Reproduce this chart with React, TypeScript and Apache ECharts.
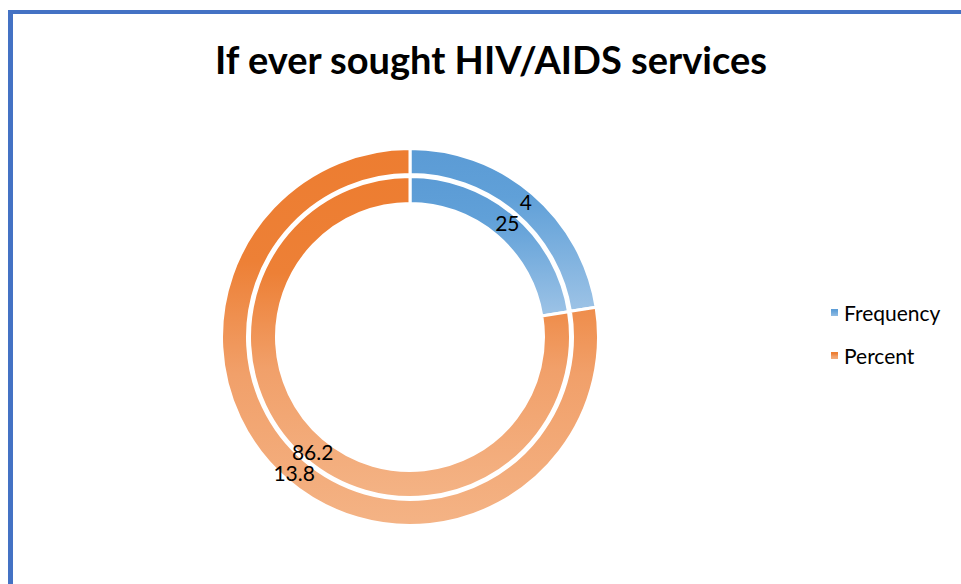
import React, { useEffect, useRef } from "react";
import * as echarts from "echarts";

const categories = ["Frequency", "Percent"];
const outerValues = [4, 13.8];
const innerValues = [25, 86.2];
const titleText = "If ever sought HIV/AIDS services";

const blueGrad = () =>
  new echarts.graphic.LinearGradient(0, 0, 0, 1, [
    { offset: 0, color: "#5B9BD5" },
    { offset: 0.3, color: "#60A0D8" },
    { offset: 1, color: "#9DC3E6" },
  ]);
const orangeGrad = () =>
  new echarts.graphic.LinearGradient(0, 0, 0, 1, [
    { offset: 0, color: "#ED7D31" },
    { offset: 0.3, color: "#ED8036" },
    { offset: 0.6, color: "#F1A06A" },
    { offset: 1, color: "#F4B385" },
  ]);

export default function App() {
  const ref = useRef<HTMLDivElement>(null);
  useEffect(() => {
    document.body.style.margin = "0";
    const chart = echarts.init(ref.current!, null, { renderer: "svg" });
    const mkData = (vals: number[]) =>
      vals.map((v, i) => ({
        name: categories[i],
        value: v,
        itemStyle: { color: i === 0 ? blueGrad() : orangeGrad() },
      }));
    const labelCfg = {
      show: true,
      position: "inside",
      formatter: "{c}",
      color: "#000",
      fontSize: 21,
      fontFamily: "Lato, 'Liberation Sans', sans-serif",
    };
    chart.setOption({
      animation: false,
      backgroundColor: "#fff",
      graphic: [
        { type: "rect", shape: { x: 8, y: 10, width: 5, height: 600 }, style: { fill: "#4472C4" } },
        { type: "rect", shape: { x: 8, y: 10, width: 960, height: 4 }, style: { fill: "#4472C4" } },
        {
          type: "text",
          x: 491,
          y: 59,
          style: {
            text: titleText,
            fontSize: 38,
            fontWeight: "bold",
            fontFamily: "Lato, 'Liberation Sans', sans-serif",
            fill: "#000",
            textAlign: "center",
            textVerticalAlign: "middle",
          },
        },
      ],
      legend: {
        orient: "vertical",
        left: 824,
        top: 297,
        itemWidth: 9,
        itemHeight: 9,
        itemGap: 22,
        icon: "rect",
        data: categories,
        textStyle: {
          fontSize: 21,
          lineHeight: 21,
          color: "#000",
          fontFamily: "Lato, 'Liberation Sans', sans-serif",
          padding: [0, 0, 0, 0],
        },
      },
      series: [
        {
          type: "pie",
          center: [410, 337],
          radius: [162.5, 188.5],
          startAngle: 90,
          clockwise: true,
          label: labelCfg,
          labelLine: { show: false },
          emphasis: { disabled: true },
          itemStyle: { borderColor: "#fff", borderWidth: 3 },
          data: mkData(outerValues),
        },
        {
          type: "pie",
          center: [410, 337],
          radius: [133.5, 160.5],
          startAngle: 90,
          clockwise: true,
          label: labelCfg,
          labelLine: { show: false },
          emphasis: { disabled: true },
          itemStyle: { borderColor: "#fff", borderWidth: 3 },
          data: mkData(innerValues),
        },
      ],
    });
    return () => chart.dispose();
  }, []);
  return <div ref={ref} style={{ position: "absolute", left: 0, top: 0, width: 961, height: 584 }} />;
}
